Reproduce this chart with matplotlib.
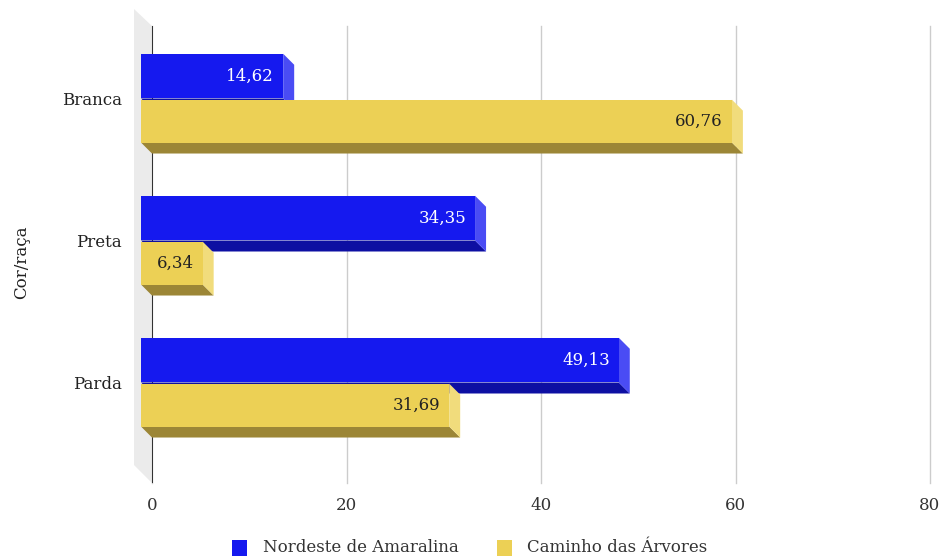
import matplotlib
matplotlib.use("Agg")
import matplotlib.pyplot as plt
from matplotlib.patches import Polygon, Rectangle

categorias = ["Branca", "Preta", "Parda"]
nordeste = [14.62, 34.35, 49.13]
caminho = [60.76, 6.34, 31.69]
series_nomes = ["Nordeste de Amaralina", "Caminho das Árvores"]
xticks = [0, 20, 40, 60, 80]

# cores: frente, lado, baixo
azul = ("#1519ef", "#4a4cf4", "#0d0fa2")
amarelo = ("#ecd055", "#f1dc7c", "#9c8636")

plt.rcParams["font.family"] = ["DejaVu Serif"]

W, H = 945, 558
fig = plt.figure(figsize=(W / 100, H / 100), dpi=100)

# area do grafico (plano de fundo) em pixels
x0px, x1px = 152, 930
ytop, ybot = 26, 483
ax = fig.add_axes([x0px / W, 1 - ybot / H, (x1px - x0px) / W, (ybot - ytop) / H])
ax.set_xlim(0, 80)
unit = 142.0
ymin = -(98.5 - ytop) / unit
ymax = ymin + (ybot - ytop) / unit
ax.set_ylim(ymax, ymin)

for s in ax.spines.values():
    s.set_visible(False)
ax.set_xticks(xticks)
ax.set_xticklabels([str(t) for t in xticks], fontsize=12, color="#333333")
ax.tick_params(axis="x", length=0, pad=10)
ax.xaxis.grid(True, color="#cccccc", lw=1)
for gl in ax.get_xgridlines():
    gl.set_clip_on(False)
ax.set_axisbelow(True)
ax.set_yticks(range(len(categorias)))
ax.set_yticklabels(categorias, fontsize=12, color="#222222")
ax.tick_params(axis="y", length=0, pad=21.5)

# parede lateral esquerda
wall = Polygon([(134, H - 9), (152, H - 26), (152, H - 483), (134, H - 465)],
               closed=True, transform=None, facecolor="#ebebeb", edgecolor="none", zorder=0.5)
wall.set_clip_on(False)
ax.add_artist(wall)
ax.axvline(0, color="#222222", lw=1.3, zorder=1)

dx, dy = 11, 11


def barra(v, ya, yb, cores, txt, tcor):
    t = ax.transData
    (xl, yt) = t.transform((0, ya))
    (xr, yb_) = t.transform((v, yb))
    # frente deslocada para a esquerda
    fl, fr = xl - dx, xr - dx
    bottom = Polygon([(fl, yb_), (fr, yb_), (xr, yb_ - dy), (xl, yb_ - dy)],
                     closed=True, transform=None, facecolor=cores[2], edgecolor="none", zorder=3)
    side = Polygon([(fr, yt), (xr, yt - dy), (xr, yb_ - dy), (fr, yb_)],
                   closed=True, transform=None, facecolor=cores[1], edgecolor="none", zorder=3)
    front = Polygon([(fl, yt), (fr, yt), (fr, yb_), (fl, yb_)],
                    closed=True, transform=None, facecolor=cores[0], edgecolor="none", zorder=4)
    for p in (bottom, side, front):
        ax.add_artist(p)
        p.set_clip_on(False)
    fig.text((fr - 9) / W, (yt + yb_) / 2 / H, txt, ha="right", va="center",
             fontsize=12, color=tcor, zorder=5)


for i in range(len(categorias)):
    barra(nordeste[i], i - 0.315, i - 0.0, azul, f"{nordeste[i]:.2f}".replace(".", ","), "white")
    barra(caminho[i], i + 0.008, i + 0.31, amarelo, f"{caminho[i]:.2f}".replace(".", ","), "#222222")

fig.text(22 / W, 1 - 262 / H, "Cor/raça", rotation=90, ha="center", va="center",
         fontsize=12, color="#222222")

# legenda
for xq, xt, cor, nome in [(232, 263, azul[0], series_nomes[0]), (497, 527, amarelo[0], series_nomes[1])]:
    fig.patches.append(Rectangle((xq, H - 556), 15, 16, transform=None,
                                 facecolor=cor, edgecolor="none"))
    fig.text(xt / W, 1 - 548 / H, nome, ha="left", va="center", fontsize=12, color="#333333")

fig.savefig("out.png", dpi=100)
